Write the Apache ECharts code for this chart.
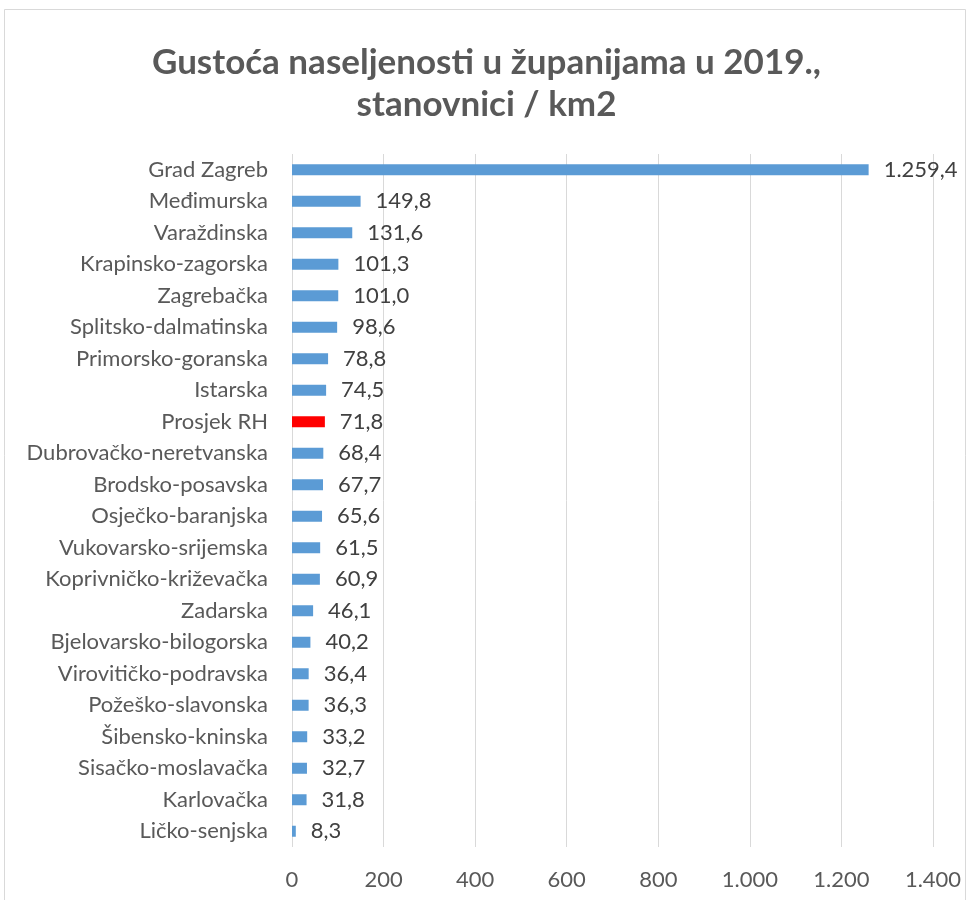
<!DOCTYPE html>
<html><head><meta charset="utf-8">
<script src="https://cdn.jsdelivr.net/npm/echarts@6/dist/echarts.min.js"></script>
<style>html,body{margin:0;padding:0;background:#fff}#c{width:973px;height:900px}</style>
</head><body><div id="c"></div>
<script>
const titleText = 'Gustoća naseljenosti u županijama u 2019.,\nstanovnici / km2';
const categories = ['Grad Zagreb','Međimurska','Varaždinska','Krapinsko-zagorska','Zagrebačka','Splitsko-dalmatinska','Primorsko-goranska','Istarska','Prosjek RH','Dubrovačko-neretvanska','Brodsko-posavska','Osječko-baranjska','Vukovarsko-srijemska','Koprivničko-križevačka','Zadarska','Bjelovarsko-bilogorska','Virovitičko-podravska','Požeško-slavonska','Šibensko-kninska','Sisačko-moslavačka','Karlovačka','Ličko-senjska'];
const values = [1259.4,149.8,131.6,101.3,101.0,98.6,78.8,74.5,71.8,68.4,67.7,65.6,61.5,60.9,46.1,40.2,36.4,36.3,33.2,32.7,31.8,8.3];
const highlight = 'Prosjek RH';

function fmt(v, dec){
  const s = v.toFixed(dec);
  let [i, d] = s.split('.');
  i = i.replace(/\B(?=(\d{3})+(?!\d))/g, '.');
  return d !== undefined ? i + ',' + d : i;
}

const chart = echarts.init(document.getElementById('c'));
chart.setOption({
  animation: false,
  backgroundColor: '#fff',
  textStyle: { fontFamily: 'Lato' },
  graphic: [{ type: 'rect', shape: { x: 4.5, y: 9.5, width: 961, height: 900 }, style: { fill: 'none', stroke: '#d9d9d9', lineWidth: 1 } }],
  title: {
    text: titleText, left: 'center', top: 37,
    textStyle: { fontFamily: 'Lato', fontWeight: 'bold', fontSize: 35, color: '#595959', lineHeight: 42 }
  },
  grid: { left: 292, right: 40, top: 154, bottom: 53, containLabel: false },
  xAxis: {
    type: 'value', min: 0, max: 1400, interval: 200,
    axisLine: { show: false }, axisTick: { show: false },
    splitLine: { lineStyle: { color: '#d9d9d9', width: 1 } },
    axisLabel: { color: '#595959', fontSize: 22, margin: 22, formatter: v => fmt(v, 0) }
  },
  yAxis: {
    type: 'category', data: categories, inverse: true,
    axisLine: { show: false }, axisTick: { show: false },
    axisLabel: { color: '#595959', fontSize: 22, margin: 24 }
  },
  series: [{
    type: 'bar', barWidth: 11,
    data: values.map((v, i) => ({ value: v, itemStyle: { color: categories[i] === highlight ? '#FF0000' : '#5B9BD5' } })),
    label: { show: true, position: 'right', distance: 15, color: '#404040', fontSize: 22, formatter: p => fmt(p.value, 1) }
  }]
});
</script></body></html>
